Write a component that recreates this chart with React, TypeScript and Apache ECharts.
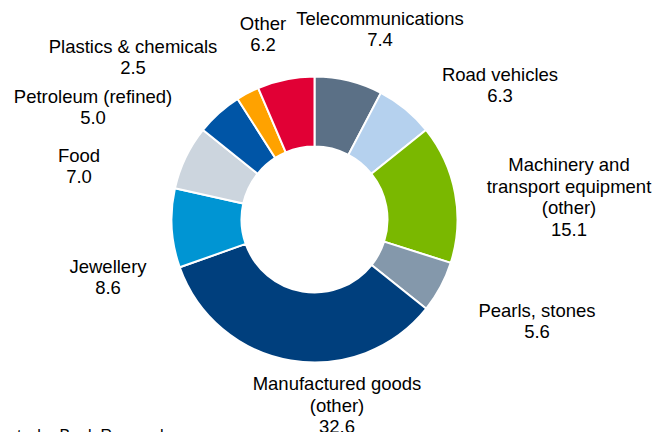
import React, { useEffect, useRef } from "react";
import * as echarts from "echarts";

const categories = [
  "Telecommunications",
  "Road vehicles",
  "Machinery and\ntransport equipment\n(other)",
  "Pearls, stones",
  "Manufactured goods\n(other)",
  "Jewellery",
  "Food",
  "Petroleum (refined)",
  "Plastics & chemicals",
  "Other",
];
const values = [7.4, 6.3, 15.1, 5.6, 32.6, 8.6, 7.0, 5.0, 2.5, 6.2];
const colors = [
  "#5B7086",
  "#B5D1EE",
  "#7AB800",
  "#8498AB",
  "#003F7D",
  "#0095D3",
  "#CCD5DE",
  "#0055A6",
  "#FFA200",
  "#E10035",
];
// label block centres (layout only)
const labelPos: [number, number][] = [
  [380, 29],
  [500, 85],
  [569, 197],
  [537, 321],
  [337, 405],
  [108, 277],
  [79, 166],
  [93, 107],
  [133, 57],
  [263, 34],
];

export default function App() {
  const ref = useRef<HTMLDivElement>(null);
  useEffect(() => {
    if (!ref.current) return;
    const chart = echarts.init(ref.current, null, { renderer: "svg" });
    chart.setOption({
      animation: false,
      backgroundColor: "#ffffff",
      graphic: [
        {
          type: "text",
          x: 169,
          y: 427,
          style: {
            text: "Source: Deutsche Bank Research",
            font: "16px 'Liberation Sans', Arial, sans-serif",
            fill: "#000",
            textAlign: "right",
            textVerticalAlign: "top",
          },
        },
      ],
      series: [
        {
          type: "pie",
          center: [314.5, 219.5],
          radius: [73, 143],
          startAngle: 90,
          clockwise: true,
          avoidLabelOverlap: false,
          itemStyle: { borderColor: "#ffffff", borderWidth: 2 },
          label: {
            show: true,
            position: "outside",
            formatter: (p: any) => `${p.name}\n${Number(p.value).toFixed(1)}`,
            fontFamily: "'Liberation Sans', Arial, sans-serif",
            fontSize: 18.5,
            lineHeight: 21.5,
            color: "#000",
            align: "center",
          },
          labelLine: { show: false },
          labelLayout: (params: any) => {
            const pos = labelPos[params.dataIndex];
            return {
              x: pos[0],
              y: pos[1],
              align: "center",
              verticalAlign: "middle",
            };
          },
          emphasis: { disabled: true },
          data: categories.map((c, i) => ({
            name: c,
            value: values[i],
            itemStyle: { color: colors[i] },
          })),
        },
      ],
    });
    return () => chart.dispose();
  }, []);
  return (
    <div
      ref={ref}
      style={{ position: "fixed", left: 0, top: 0, width: 658, height: 432 }}
    />
  );
}
